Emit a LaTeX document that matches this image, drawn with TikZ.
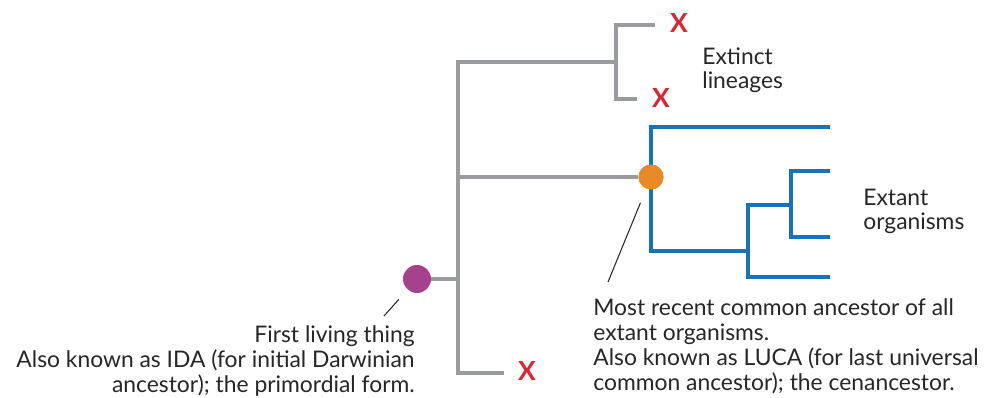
\documentclass[tikz,border=0pt]{standalone}
\usepackage{fontspec}
\setmainfont{Lato}
\usetikzlibrary{positioning}
\definecolor{branchgrey}{RGB}{154,155,158}
\definecolor{extantblue}{RGB}{22,114,186}
\definecolor{lucaorange}{RGB}{232,138,40}
\definecolor{idapurple}{RGB}{166,66,140}
\definecolor{extinctred}{RGB}{222,36,48}
\tikzset{
  grey branch/.style={branchgrey, line width=2.3pt},
  blue branch/.style={extantblue, line width=2.3pt},
  ancestor/.style={circle, fill=#1, inner sep=0pt, minimum size=0.56cm},
  dead end/.style={text=extinctred, font=\bfseries\fontsize{15}{15}\selectfont, inner sep=0pt},
  note/.style={font=\fontsize{13}{14.2}\selectfont, text=black!85, inner sep=0pt},
  leader/.style={black!85, line width=0.6pt}
}

\begin{document}
\begin{tikzpicture}[x=0.02cm, y=-0.02cm]
  \useasboundingbox (0,0) rectangle (986,398);

  % junctions of the grey tree
  \coordinate (top)    at (458,62);
  \coordinate (mid)    at (458,177);
  \coordinate (low)    at (458,279);
  \coordinate (bottom) at (458,373);
  \coordinate (fork)   at (616,62);

  % ancestors
  \node[ancestor=idapurple, minimum size=0.56cm] (ida) at (417,279) {};
  \node[ancestor=lucaorange, minimum size=0.5cm] (luca) at (651,177) {};

  % extinct ends
  \node[dead end] (x1) at (679,23) {X};
  \node[dead end] (x2) at (661,98) {X};
  \node[dead end] (x3) at (527,371) {X};

  % grey lineages
  \draw[grey branch] (ida) -- (low);
  \draw[grey branch] (504,373) -- (bottom) -- (top) -- (fork);
  \draw[grey branch] (655,25) -- (616,25) -- (616,99) -- (637,99);
  \draw[grey branch] (mid) -- (luca);

  % extant lineages
  \draw[blue branch] (830,127) -- (651,127) -- (651,251) -- (748,251);
  \draw[blue branch] (791,205) -- (748,205) -- (748,277) -- (830,277);
  \draw[blue branch] (830,171) -- (791,171) -- (791,237) -- (830,237);
  \node[ancestor=lucaorange, minimum size=0.5cm] at (luca) {};

  % labels (base = last line)
  \node[note, align=left, anchor=base west] (extinct) at (702,89) {Extinct\\lineages};
  \node[note, align=left, anchor=base west] (extant) at (863,230) {Extant\\organisms};
  \node[note, align=right, anchor=base east] (idanote) at (415,392)
    {First living thing\\Also known as IDA (for initial Darwinian\\ancestor); the primordial form.};
  \node[note, align=left, anchor=base west] (lucanote) at (593,390)
    {Most recent common ancestor of all\\extant organisms.\\Also known as LUCA (for last universal\\common ancestor); the cenancestor.};

  \coordinate (ida tip)  at (384,316);
  \coordinate (luca tip) at (608,282);
  \draw[leader, shorten <=0.26cm] (ida) -- (ida tip);
  \draw[leader, shorten <=0.3cm] (luca) -- (luca tip);
\end{tikzpicture}
\end{document}
